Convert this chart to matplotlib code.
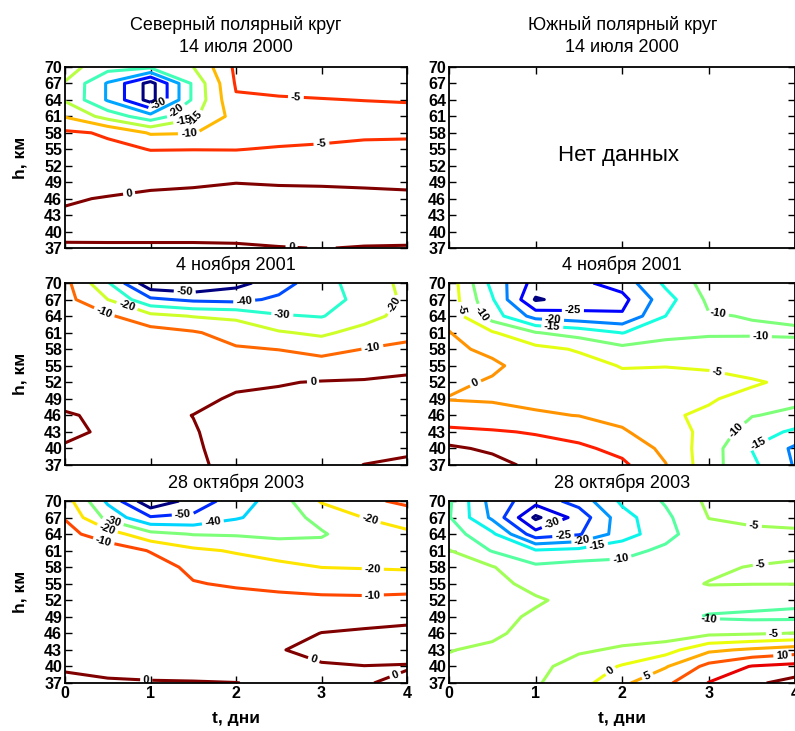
import numpy as np
import matplotlib
matplotlib.use('Agg')
import matplotlib.pyplot as plt
from matplotlib.colors import Normalize

plt.rcParams['font.family'] = ['Liberation Sans', 'DejaVu Sans']

# grid: time (days) and height (km), rows listed from 70 km down to 37 km
t_days = [0, 0.5, 1, 1.5, 2, 2.5, 3, 3.5, 4]
h_km = [70, 67, 64, 61, 58, 55, 52, 49, 46, 43, 40, 37]

# Northern polar circle, 14 July 2000
north_2000 = [
    [-13, -18, -19, -15, -4, -3.5, -3.5, -3.5, -3.5],
    [-15.3, -25.5, -37, -19, -4.5, -4, -4, -4, -4],
    [-15.5, -25.5, -37, -19, -5.5, -5.3, -5.1, -4.95, -4.8],
    [-10.3, -17, -23, -16, -8, -7, -6.5, -6, -6],
    [-4.2, -5.5, -10.5, -10.2, -7.5, -6.5, -6, -5.6, -5.6],
    [-3.3, -4.1, -5.1, -5.05, -5.1, -4.7, -4.5, -4.2, -4],
    [-2.2, -3.3, -3.5, -3.5, -3, -3, -2.8, -2.6, -2.5],
    [-1.3, -1.8, -1, -0.6, -0.1, -0.3, -0.4, -0.6, -0.9],
    [-0.5, 0.3, 1.0, 1.2, 1.5, 1.2, 1.2, 1.1, 1.0],
    [0.6, 2, 2.5, 2.5, 2.8, 2.5, 2.5, 2.3, 2.2],
    [1.5, 2, 2, 2, 2, 2, 1.5, 1.5, 1.5],
    [-0.8, -1, -1, -1, -0.8, -0.2, 0.1, -0.2, -0.3],
]

# Northern polar circle, 4 November 2001
north_2001 = [
    [-7, -29, -58, -60, -53, -45, -33, -26, -17],
    [-6.5, -20, -38, -42, -43, -38, -34, -27, -18],
    [-6, -8.5, -17, -20.5, -22, -29, -30.5, -24, -16],
    [-5, -6, -6, -9, -14, -19, -22, -16, -12.5],
    [-4.2, -5, -5, -5.5, -9, -10.2, -13, -9.8, -8],
    [-3.5, -4, -4, -4.2, -5, -5, -6, -5, -2.5],
    [-2.8, -3, -3.2, -3.2, -1.5, -0.5, 0.5, 1, 2],
    [-1.5, -2, -2.5, -2, 1, 1.5, 2, 1.5, 2],
    [0.5, -1, -2, 0.1, 2, 2.5, 3, 2.5, 2],
    [1, -0.7, -2, -0.5, 3, 3, 3, 2.5, 1.5],
    [-0.5, -1, -2.2, -1, 3, 3, 2.5, 2, 1],
    [-2, -2, -2.5, -1.5, 2.5, 2.5, 2, -0.1, -1],
]

# Northern polar circle, 28 October 2003
north_2003 = [
    [-15, -42, -68, -56, -45, -35, -19, -12, -8],
    [-10.5, -33, -49, -48, -41, -35, -27, -19.8, -15],
    [-7, -15, -27, -30.5, -31, -32, -31, -24, -22],
    [-5, -5, -10.5, -18, -21, -25, -26, -23, -23],
    [-4, -4.5, -6, -12, -15, -17, -20.1, -20.5, -21],
    [-3.5, -3.7, -4.5, -9.5, -11, -12, -14, -15, -15],
    [-3, -3.2, -3.8, -5, -7, -8, -8, -8, -7],
    [-2.5, -2.8, -3.3, -4, -5, -5.5, -4, -3, -2],
    [-2, -2.5, -3, -3.5, -4, -3.5, 0.2, 1.2, 2],
    [-1.5, -2, -2.5, -2.8, -3, -0.3, 1.5, 2, 2],
    [-0.5, -1.2, -1.5, -1.5, -1.5, -1.5, -0.5, -0.1, -0.3],
    [1, 0.5, 0.3, 0.2, 0.05, -0.5, -1.5, -0.3, 1],
]

# Southern polar circle, 4 November 2001
south_2001 = [
    [-2, -16.5, -27, -26, -23, -14, -8, -7.5, -7],
    [-2, -14.5, -30.5, -28, -26.5, -17, -9, -8, -7.5],
    [-1.5, -12.5, -22, -23.5, -24.4, -15, -10.3, -9.8, -9.2],
    [0.2, -4.5, -9.8, -12, -15.2, -11.5, -10.5, -10.6, -10.6],
    [1, -1, -3.5, -5.5, -8.5, -8, -8.3, -7.8, -8.5],
    [1.5, 0.8, -2, -3, -5.3, -5.1, -5.4, -6.5, -7],
    [1, -0.5, -1.5, -2, -3.5, -3.8, -4, -4.6, -5.8],
    [-0.2, -0.4, -1, -1.5, -2.5, -3.5, -4.7, -6, -9],
    [2.5, 1.5, 0.5, -0.1, -1.3, -4.6, -5.5, -9.8, -11],
    [6, 5.5, 4.6, 3, 0.5, -2.5, -6.5, -12.5, -16],
    [11, 9, 7, 6, 3.5, -1.2, -7.5, -15.2, -21],
    [14, 12, 8.5, 8, 6, 0.2, -8, -14, -20.5],
]

# Southern polar circle, 28 October 2003
south_2003 = [
    [-9.2, -22, -28, -23, -14, -9.5, -4, -3, -2.5],
    [-9.6, -21, -36, -28, -17, -11, -4.9, -4, -3.5],
    [-7.5, -14, -28, -25.5, -17.5, -11.5, -6.5, -6, -5.8],
    [-4.8, -10.3, -14.5, -13.5, -11.5, -9, -7.5, -7.5, -6.5],
    [-3.5, -4.7, -9, -8, -8.5, -7, -6, -4.7, -4],
    [-3, -4, -6, -6.5, -6.5, -6.5, -4.8, -4.9, -4.9],
    [-2.8, -3.8, -4.6, -6, -6.5, -7, -7.5, -8, -9],
    [-3, -4, -5.5, -6, -7, -8, -10.5, -11, -11],
    [-3.5, -4.5, -6, -6, -6.5, -8, -6, -5.5, -4.8],
    [-4.9, -5.5, -6.5, -5.5, -4.5, -2, 4, 5.8, 7.5],
    [-5.5, -6, -6, -3.5, 0.5, 4.6, 11.5, 15.3, 16.5],
    [-6, -6, -5.5, -2, 4, 9, 15.2, 19, 22],
]

levels_n2000 = [-35, -30, -25, -20, -15, -10, -5, 0]
levels_n2001 = [-50, -40, -30, -20, -10, 0]
levels_n2003 = [-60, -50, -40, -30, -20, -10, 0]
levels_s2001 = [-30, -25, -20, -15, -10, -5, 0, 5, 10]
levels_s2003 = [-35, -30, -25, -20, -15, -10, -5, 0, 5, 10, 15, 20]

yticks = [37, 40, 43, 46, 49, 52, 55, 58, 61, 64, 67, 70]
xticks = [0, 1, 2, 3, 4]

# approximate spots (t, h) where the contour labels sit in the original
lab_n2000 = [(1.1, 63.0), (1.3, 62.0), (1.38, 61.3), (1.47, 60.6), (1.45, 57.8),
             (2.7, 64.4), (3.0, 55.8), (0.75, 46.9), (2.65, 37.3)]
lab_n2001 = [(1.4, 68.3), (2.1, 66.0), (2.54, 64.0), (0.72, 65.6), (3.85, 66.0),
             (0.45, 64.4), (3.6, 57.8), (2.9, 52.3)]
lab_n2003 = [(0.56, 66.2), (0.49, 64.8), (0.45, 62.6), (1.38, 67.0), (1.73, 66.0),
             (3.57, 66.8), (3.6, 57.6), (3.6, 52.9), (0.95, 37.6), (2.9, 40.8),
             (3.85, 39.0)]
lab_s2001 = [(0.1, 65.0), (0.39, 64.4), (1.43, 64.8), (1.2, 63.1), (1.19, 61.8),
             (3.1, 63.8), (3.6, 60.6), (0.3, 52.0), (3.1, 54.2), (3.28, 44.0),
             (3.56, 41.2)]
lab_s2003 = [(1.2, 65.5), (1.32, 63.6), (1.54, 62.7), (1.71, 62.0), (1.98, 60.0),
             (3.52, 65.3), (3.6, 58.2), (3.0, 48.3), (3.75, 45.9), (1.85, 39.5),
             (2.3, 38.0), (3.85, 41.8)]

W, H = 795, 731
fig = plt.figure(figsize=(W / 100, H / 100), dpi=100)

col_x = [(65, 407), (449, 795.5)]
row_y = [(67, 248), (283, 465), (501, 683)]


def make_ax(col, row):
    x0, x1 = col_x[col]
    y0, y1 = row_y[row]
    ax = fig.add_axes([x0 / W, 1 - y1 / H, (x1 - x0) / W, (y1 - y0) / H])
    ax.set_xlim(0, 4)
    ax.set_ylim(37, 70)
    ax.set_xticks(xticks)
    ax.set_yticks(yticks)
    ax.tick_params(direction='in', top=True, right=True, length=5, width=1,
                   labelsize=11.5, pad=2)
    for lab in ax.get_yticklabels() + ax.get_xticklabels():
        lab.set_fontweight('bold')
    for s in ax.spines.values():
        s.set_linewidth(1.3)
    if row < 2:
        ax.tick_params(labelbottom=False)
    else:
        ax.set_xlabel('t, дни', fontsize=12.5, fontweight='bold', labelpad=7)
    if col == 0:
        ax.set_ylabel('h, км', fontsize=12.5, fontweight='bold', labelpad=12)
    return ax


def draw(ax, data, levels, spots):
    T, Hh = np.meshgrid(t_days, h_km[::-1])
    Z = np.array(data, dtype=float)[::-1]
    cs = ax.contour(T, Hh, Z, levels=levels, cmap='jet',
                    norm=Normalize(min(levels), max(levels)), linewidths=2.2)
    texts = ax.clabel(cs, inline=True, fontsize=8, fmt='%d', inline_spacing=3,
                      colors='black', manual=spots)
    for tx in texts:
        tx.set_fontweight('bold')
    return cs


title_kw = dict(fontsize=13, linespacing=1.4)

ax = make_ax(0, 0)
draw(ax, north_2000, levels_n2000, lab_n2000)
ax.set_title('Северный полярный круг\n14 июля 2000', pad=10.5, **title_kw)

ax = make_ax(1, 0)
ax.text(0.49, 0.51, 'Нет данных', transform=ax.transAxes, ha='center',
        va='center', fontsize=16)
ax.set_title('Южный полярный круг\n14 июля 2000', pad=10.5, **title_kw)

ax = make_ax(0, 1)
draw(ax, north_2001, levels_n2001, lab_n2001)
ax.set_title('4 ноября 2001', pad=9, **title_kw)

ax = make_ax(1, 1)
draw(ax, south_2001, levels_s2001, lab_s2001)
ax.set_title('4 ноября 2001', pad=9, **title_kw)

ax = make_ax(0, 2)
draw(ax, north_2003, levels_n2003, lab_n2003)
ax.set_title('28 октября 2003', pad=9, **title_kw)

ax = make_ax(1, 2)
draw(ax, south_2003, levels_s2003, lab_s2003)
ax.set_title('28 октября 2003', pad=9, **title_kw)

fig.savefig('out.png', dpi=100)
